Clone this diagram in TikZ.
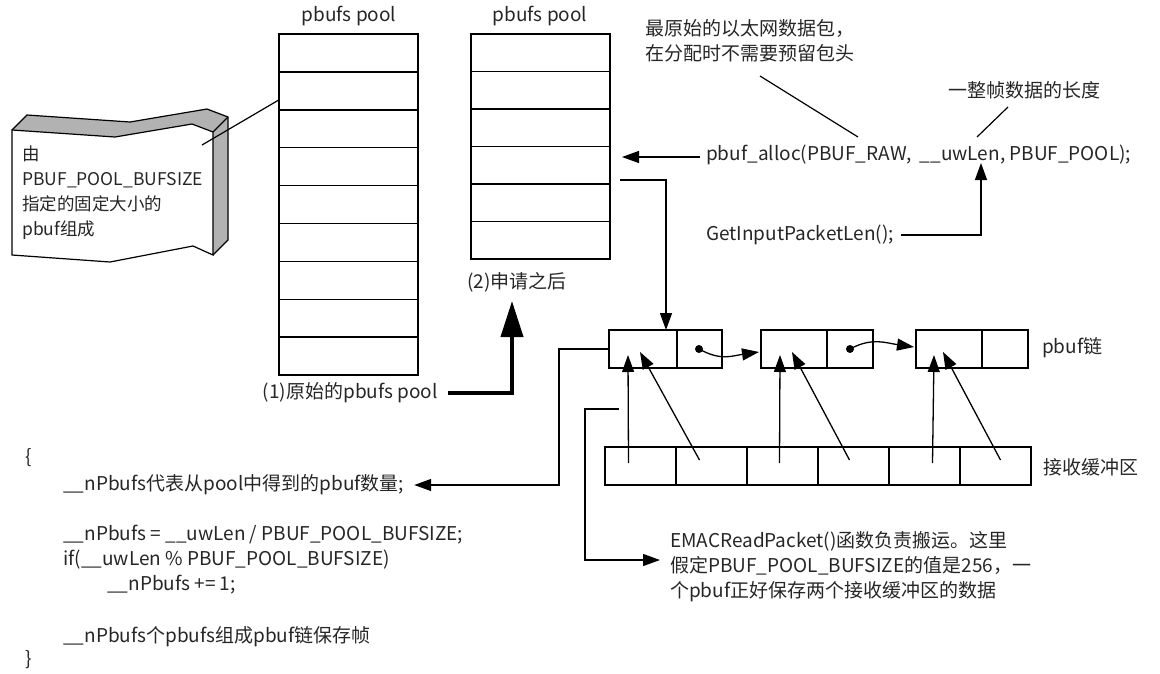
\documentclass[tikz,border=0pt]{standalone}
\usepackage{fontspec}
\setmainfont{Noto Sans CJK SC}
\usetikzlibrary{arrows.meta,calc,positioning}

\tikzset{
  txt/.style={inner sep=0pt, text=black!85, font=\fontsize{19}{25}\selectfont, align=left},
  poolcell/.style={draw, line width=1.5pt, outer sep=0pt, inner sep=0pt, minimum width=139pt, minimum height=37.9pt},
  chcell/.style={draw, line width=1.4pt, outer sep=0pt, inner sep=0pt, minimum height=38pt},
  bufcell/.style={draw, line width=1.4pt, outer sep=0pt, inner sep=0pt, minimum width=71pt, minimum height=38pt},
  dot/.style={circle, fill=black, inner sep=0pt, minimum size=8pt},
  link/.style={line width=1.2pt},
  arr/.style={line width=1.3pt, -{Triangle[length=17pt,width=12pt]}},
  bigarr/.style={line width=4pt, -{Triangle[length=36pt,width=22pt]}}
}

\begin{document}
\begin{tikzpicture}[x=1pt,y=-1pt]
\useasboundingbox (0,0) rectangle (1160,673);

% the two pools
\foreach \i in {1,...,9}
  \node[poolcell] (p1-\i) at (348.5,{34+37.9*(\i-0.5)}) {};
\foreach \i in {1,...,6}
  \node[poolcell, minimum height=37.5pt] (p2-\i) at (540.5,{34+37.5*(\i-0.5)}) {};
\node[txt] (t1) at (349,16) {pbufs pool};
\node[txt] (t2) at (540,16) {pbufs pool};
\node[txt, anchor=east] (orig) at (438,393) {(1)原始的pbufs pool};
\node[txt, anchor=west] (after) at (467,282) {(2)申请之后};
\coordinate (aftertip) at (512,301);
\draw[bigarr] ($(orig.east)+(10,0)$) -| (aftertip);

% callout
\fill[gray!60] (12,130) -- (115,137) -- (192,124) -- (213,132) -- (213,255)
  -- (228,240) -- (228,117) -- (207,109) -- (130,122) -- (27,115) -- cycle;
\draw[link] (12,130) -- (27,115) -- (130,122) -- (207,109) -- (228,117) -- (228,240) -- (213,255);
\draw[link] (213,132) -- (228,117);
\draw[link, fill=white] (12,130) -- (115,137) -- (192,124) -- (213,132) -- (213,255)
  -- (193,246) -- (110,262) -- (12,255) -- cycle;
\node[txt, anchor=west, font=\fontsize{17.5}{25}\selectfont] (callout) at (22,192.5) {由\\PBUF\_POOL\_BUFSIZE\\指定的固定大小的\\pbuf组成};
\coordinate (callouttip) at (202,145);
\draw[link] (callouttip) -- ($(p1-2.west)+(0,9)$);

% pbuf_alloc call
\node[txt, anchor=west] (rawnote) at (645,40.5) {最原始的以太网数据包，\\在分配时不需要预留包头};
\node[txt, anchor=west] (lennote) at (948,90) {一整帧数据的长度};
\node[txt, anchor=west] (alloc) at (706,155) {pbuf\_alloc(PBUF\_RAW,\ \ \_\_uwLen, PBUF\_POOL);};
\node[txt, anchor=west] (getlen) at (706,235) {GetInputPacketLen();};
\coordinate (rawA) at (760,76);
\coordinate (rawB) at (858,137);
\coordinate (lenA) at (1008,107);
\coordinate (lenB) at (977,137);
\coordinate (alloctip) at (622,157);
\coordinate (lentip) at (981,163);
\draw[link] (rawA) -- (rawB);
\draw[link] (lenA) -- (lenB);
\draw[arr] ($(alloc.west)+(-6,2)$) -- (alloctip);
\draw[arr] ($(getlen.east)+(7,0)$) -| (lentip);

% pbuf chain
\node[chcell, minimum width=68pt] (c1a) at (643,349) {};
\node[chcell, minimum width=45pt, right=0pt of c1a] (c1b) {};
\node[chcell, minimum width=66pt] (c2a) at (794,349) {};
\node[chcell, minimum width=46pt, right=0pt of c2a] (c2b) {};
\node[chcell, minimum width=66pt] (c3a) at (949,349) {};
\node[chcell, minimum width=46pt, right=0pt of c3a] (c3b) {};
\node[dot] (d1) at (699,349) {};
\node[dot] (d2) at (850,349) {};
\draw[arr] (d1.center) .. controls +(22,12) and +(-28,4) .. ($(c2a.west)+(-2,3)$);
\draw[arr] (d2.center) .. controls +(22,-12) and +(-28,-4) .. ($(c3a.west)+(-2,-2)$);
\node[txt, anchor=west] (chainlbl) at (1042,348) {pbuf链};
\coordinate (p2out) at (620,180);
\draw[arr] (p2out) -| ($(c1a.north east)+(-11,0)$);

% receive buffer
\node[bufcell] (b1) at (640.5,466) {};
\foreach \i [remember=\i as \j (initially 1)] in {2,...,6}
  \node[bufcell, right=0pt of b\j] (b\i) {};
\node[txt, anchor=west] (buflbl) at (1043,467) {接收缓冲区};
\draw[arr] ($(b1.center)+(-12,-3)$) -- ($(c1a.center)+(-15,6)$);
\draw[arr] ($(b2.center)+(-12,-6)$) -- ($(c1a.center)+(-3,3)$);
\draw[arr] ($(b3.center)+(-3,-3)$) -- ($(c2a.center)+(-14,6)$);
\draw[arr] ($(b4.center)+(-4,-6)$) -- ($(c2a.center)+(-2,3)$);
\draw[arr] ($(b5.center)+(8,-3)$) -- ($(c3a.center)+(-15,6)$);
\draw[arr] ($(b6.center)+(5,-6)$) -- ($(c3a.center)+(-6,3)$);

% code
\node[txt, anchor=west] (lbrace) at (25,458) {\{};
\node[txt, anchor=west] (npb) at (63,485) {\_\_nPbufs代表从pool中得到的pbuf数量;};
\node[txt, anchor=west] (code1) at (63,535) {\_\_nPbufs = \_\_uwLen / PBUF\_POOL\_BUFSIZE;};
\node[txt, anchor=west] (code2) at (63,560) {if(\_\_uwLen \% PBUF\_POOL\_BUFSIZE)};
\node[txt, anchor=west] (code3) at (107,585) {\_\_nPbufs += 1;};
\node[txt, anchor=west] (code4) at (63,637) {\_\_nPbufs个pbufs组成pbuf链保存帧};
\node[txt, anchor=west] (rbrace) at (25,660) {\}};
\draw[arr] (c1a.west) -- ++(-50,0) |- ($(npb.east)+(10,0)$);

% EMACReadPacket note
\node[txt, anchor=west] (emac) at (670,567) {EMACReadPacket()函数负责搬运。这里\\假定PBUF\_POOL\_BUFSIZE的值是256，一\\个pbuf正好保存两个接收缓冲区的数据};
\coordinate (emacstart) at (619,409);
\draw[arr] (emacstart) -- ++(-34,0) |- ($(emac.west)+(-10,-7)$);
\end{tikzpicture}
\end{document}
